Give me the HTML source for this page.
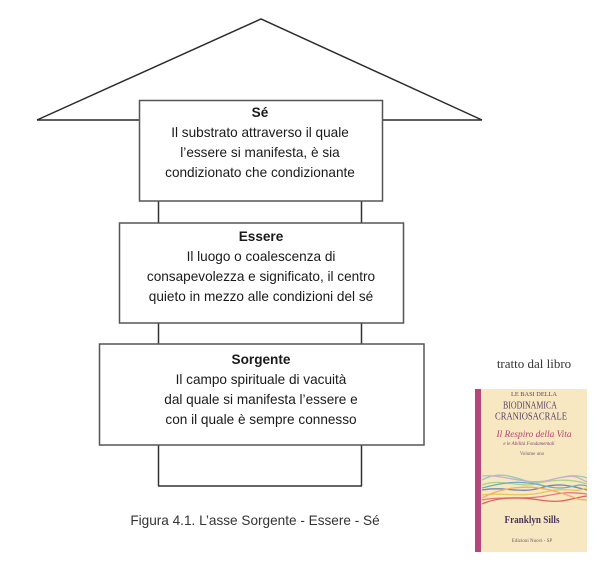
<!DOCTYPE html>
<html><head><meta charset="utf-8"><style>
html,body{margin:0;padding:0;background:#fff;}
svg{display:block;}
.t{font-family:"Liberation Sans",Arial,sans-serif;font-size:13.6px;fill:#1a1a1a;text-anchor:middle;}
.b{font-weight:bold;}
.s{font-family:"Liberation Serif","Times New Roman",serif;text-anchor:middle;}
</style></head><body>
<svg width="600" height="567" viewBox="0 0 600 567" xmlns="http://www.w3.org/2000/svg">
<rect width="600" height="567" fill="#fff"/>
<!-- roof -->
<polyline points="37,120 261,19 482,120" fill="none" stroke="#2a2a2a" stroke-width="1.5"/>
<line x1="37" y1="120" x2="140" y2="120" stroke="#2a2a2a" stroke-width="1.5"/>
<line x1="382" y1="120" x2="482" y2="120" stroke="#2a2a2a" stroke-width="1.5"/>
<!-- column -->
<line x1="158.5" y1="201" x2="158.5" y2="486" stroke="#333" stroke-width="1.5"/>
<line x1="361.5" y1="201" x2="361.5" y2="486" stroke="#333" stroke-width="1.5"/>
<line x1="158" y1="486" x2="362" y2="486" stroke="#333" stroke-width="1.5"/>
<!-- boxes -->
<rect x="139.5" y="100.5" width="243" height="100.5" fill="#fff" stroke="#555" stroke-width="1.5"/>
<rect x="119.5" y="223" width="284" height="100" fill="#fff" stroke="#555" stroke-width="1.5"/>
<rect x="99.5" y="344" width="324.5" height="101" fill="#fff" stroke="#555" stroke-width="1.5"/>
<!-- texts -->
<text class="t b" x="260" y="117">Sé</text>
<text class="t" x="260" y="137">Il substrato attraverso il quale</text>
<text class="t" x="260" y="157">l’essere si manifesta, è sia</text>
<text class="t" x="260" y="177">condizionato che condizionante</text>

<text class="t b" x="261" y="241">Essere</text>
<text class="t" x="261" y="261">Il luogo o coalescenza di</text>
<text class="t" x="261" y="281">consapevolezza e significato, il centro</text>
<text class="t" x="261" y="301">quieto in mezzo alle condizioni del sé</text>

<text class="t b" x="261" y="364">Sorgente</text>
<text class="t" x="261" y="384">Il campo spirituale di vacuità</text>
<text class="t" x="261" y="404">dal quale si manifesta l’essere e</text>
<text class="t" x="261" y="424">con il quale è sempre connesso</text>

<text class="t" x="255" y="525" style="fill:#333">Figura 4.1. L’asse Sorgente - Essere - Sé</text>

<!-- book -->
<text class="s" x="534" y="368" font-size="13" fill="#333">tratto dal libro</text>
<rect x="475" y="389" width="112" height="163" fill="#f8e8c2"/>
<rect x="475" y="389" width="6" height="163" fill="#b4467c"/>
<text class="s" x="534" y="396" font-size="6" fill="#5a3e66" textLength="46" lengthAdjust="spacingAndGlyphs">LE BASI DELLA</text>
<text class="s" x="530" y="408.5" font-size="10.5" fill="#5a3e66" textLength="54" lengthAdjust="spacingAndGlyphs">BIODINAMICA</text>
<text class="s" x="531" y="419.5" font-size="10.5" fill="#5a3e66" textLength="72" lengthAdjust="spacingAndGlyphs">CRANIOSACRALE</text>
<text class="s" x="534" y="437" font-size="9.5" font-style="italic" fill="#b84270" textLength="75" lengthAdjust="spacingAndGlyphs">Il Respiro della Vita</text>
<text class="s" x="529" y="445" font-size="5" font-style="italic" fill="#7a4a6a">e le Abilità Fondamentali</text>
<text class="s" x="532" y="455" font-size="5" fill="#7a5a6a">Volume uno</text>
<g fill="none" stroke-width="1.3" opacity="0.8">
<path d="M482,480 C500,470 515,478 530,482 S565,470 587,478" stroke="#7bc4b8"/>
<path d="M482,485 C500,478 520,488 535,484 S570,478 587,484" stroke="#9ccf7a"/>
<path d="M482,490 C505,486 520,494 540,488 S570,486 587,490" stroke="#5a6aa8"/>
<path d="M482,495 C500,492 520,498 545,492 S570,494 587,488" stroke="#e0c040"/>
<path d="M482,500 C500,496 525,500 545,496 S570,492 587,494" stroke="#e05a7a"/>
<path d="M482,504 C495,498 515,496 540,500 S570,498 587,496" stroke="#d94040"/>
<path d="M482,476 C505,474 525,486 550,480 S575,476 587,482" stroke="#c0a0d0"/>
<path d="M482,498 C500,488 525,484 550,490 S575,500 587,500" stroke="#f0a050"/>
<path d="M482,488 C505,482 520,480 545,486 S575,482 587,486" stroke="#4aa0c0"/>
</g>
<text class="s" x="532" y="523" font-size="11" font-weight="bold" fill="#4a3558" textLength="55" lengthAdjust="spacingAndGlyphs">Franklyn Sills</text>
<text class="s" x="532" y="542" font-size="5" fill="#6a5a6a">Edizioni Nuovi - SP</text>
</svg>
</body></html>
